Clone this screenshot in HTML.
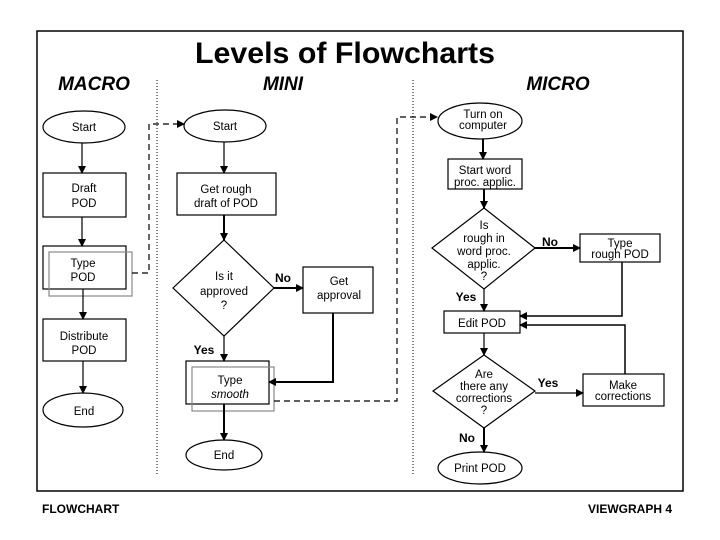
<!DOCTYPE html>
<html><head><meta charset="utf-8"><style>
html,body{margin:0;padding:0;background:#fff;width:720px;height:540px;overflow:hidden}
svg{display:block}
text{font-family:"Liberation Sans",sans-serif;fill:#000}
</style></head><body>
<svg width="720" height="540" viewBox="0 0 720 540" xmlns="http://www.w3.org/2000/svg">
<defs>
<marker id="a" markerWidth="8" markerHeight="8" refX="7" refY="4" orient="auto" markerUnits="userSpaceOnUse">
<path d="M0,0 L8,4 L0,8 Z" fill="#000"/></marker>
</defs>
<rect x="37" y="31" width="646" height="460" fill="none" stroke="#000" stroke-width="1.5"/>
<text x="345" y="63" font-size="30" font-weight="bold" text-anchor="middle" textLength="300" lengthAdjust="spacingAndGlyphs">Levels of Flowcharts</text>
<g font-size="19" font-weight="bold" font-style="italic" text-anchor="middle">
<text x="94" y="90">MACRO</text><text x="283" y="90">MINI</text><text x="558" y="90">MICRO</text>
</g>
<line x1="157" y1="80" x2="157" y2="476" stroke="#000" stroke-dasharray="1,2"/>
<line x1="413" y1="80" x2="413" y2="476" stroke="#000" stroke-dasharray="1,2"/>
<g fill="none" stroke="#000" stroke-width="1.2">
<ellipse cx="84" cy="127" rx="41" ry="16"/>
<rect x="43" y="173" width="83" height="44"/>
<rect x="43" y="246" width="83" height="43"/>
<rect x="49" y="252" width="83" height="44" stroke="#888"/>
<rect x="43" y="319" width="83" height="42"/>
<ellipse cx="83" cy="410" rx="40" ry="17"/>
<line x1="82" y1="143" x2="82" y2="173" marker-end="url(#a)"/>
<line x1="82" y1="217" x2="82" y2="246" marker-end="url(#a)"/>
<line x1="83" y1="289" x2="83" y2="319" marker-end="url(#a)"/>
<line x1="83" y1="361" x2="83" y2="393" marker-end="url(#a)"/>
<path d="M132,273 H149 V124 H184" stroke-dasharray="6,4" marker-end="url(#a)"/>
<ellipse cx="225" cy="126" rx="41" ry="16"/>
<rect x="177" y="173" width="99" height="42"/>
<path d="M224,240 L274,288 L224,336 L173,288 Z"/>
<rect x="303" y="267" width="70" height="46"/>
<rect x="186" y="361" width="83" height="43"/>
<rect x="192" y="367" width="82" height="44" stroke="#888"/>
<ellipse cx="224" cy="455" rx="38" ry="15"/>
<line x1="224" y1="142" x2="224" y2="173" marker-end="url(#a)"/>
<line x1="224" y1="215" x2="224" y2="240" stroke-width="2" marker-end="url(#a)"/>
<line x1="274" y1="288" x2="303" y2="288" stroke-width="2" marker-end="url(#a)"/>
<line x1="224" y1="336" x2="224" y2="361" marker-end="url(#a)"/>
<path d="M333,313 V382 H269" stroke-width="2" marker-end="url(#a)"/>
<line x1="224" y1="404" x2="224" y2="440" stroke-width="2" marker-end="url(#a)"/>
<path d="M274,401 H397 V117 H437" stroke-dasharray="6,4" marker-end="url(#a)"/>
<ellipse cx="480" cy="121" rx="42" ry="18"/>
<rect x="448" y="159" width="74" height="30"/>
<path d="M484,208 L535,248 L484,289 L432,248 Z"/>
<rect x="580" y="234" width="80" height="28"/>
<rect x="444" y="311" width="76" height="22"/>
<path d="M484,355 L535,391 L484,428 L433,391 Z"/>
<rect x="583" y="374" width="81" height="32"/>
<ellipse cx="480" cy="468" rx="42" ry="16"/>
<line x1="483" y1="139" x2="483" y2="159" stroke-width="2" marker-end="url(#a)"/>
<line x1="484" y1="189" x2="484" y2="208" stroke-width="2" marker-end="url(#a)"/>
<line x1="535" y1="248" x2="580" y2="248" stroke-width="2" marker-end="url(#a)"/>
<line x1="484" y1="289" x2="484" y2="311" marker-end="url(#a)"/>
<path d="M622,262 V316 H520" stroke-width="1.5" marker-end="url(#a)"/>
<path d="M625,374 V325 H520" stroke-width="1.5" marker-end="url(#a)"/>
<line x1="484" y1="333" x2="484" y2="355" marker-end="url(#a)"/>
<line x1="535" y1="393" x2="583" y2="393" marker-end="url(#a)"/>
<line x1="484" y1="428" x2="484" y2="452" stroke-width="2" marker-end="url(#a)"/>
</g>
<g font-size="11.5" text-anchor="middle">
<text x="84" y="131">Start</text>
<text x="84" y="192">Draft</text><text x="84" y="207">POD</text>
<text x="83" y="267">Type</text><text x="83" y="281">POD</text>
<text x="84" y="340">Distribute</text><text x="84" y="354">POD</text>
<text x="84" y="415">End</text>
<text x="225" y="130">Start</text>
<text x="226" y="193">Get rough</text><text x="226" y="207">draft of POD</text>
<text x="224" y="280">Is it</text><text x="224" y="295">approved</text><text x="224" y="309">?</text>
<text x="339" y="285">Get</text><text x="339" y="299">approval</text>
<text x="230" y="384">Type</text><text x="230" y="398" font-style="italic">smooth</text>
<text x="224" y="459">End</text>
<text x="483" y="118">Turn on</text><text x="483" y="129">computer</text>
<text x="485" y="174">Start word</text><text x="485" y="186">proc. applic.</text>
<text x="484" y="229">Is</text><text x="484" y="242">rough in</text><text x="484" y="255">word proc.</text><text x="484" y="268">applic.</text><text x="484" y="280">?</text>
<text x="620" y="247">Type</text><text x="620" y="258">rough POD</text>
<text x="482" y="327">Edit POD</text>
<text x="484" y="378">Are</text><text x="484" y="390">there any</text><text x="484" y="402">corrections</text><text x="484" y="414">?</text>
<text x="623" y="389">Make</text><text x="623" y="400">corrections</text>
<text x="480" y="472">Print POD</text>
</g>
<g font-size="12" font-weight="bold" text-anchor="middle">
<text x="283" y="282">No</text><text x="204" y="354">Yes</text>
<text x="550" y="246">No</text><text x="466" y="301">Yes</text>
<text x="548" y="387">Yes</text><text x="467" y="442">No</text>
</g>
<text x="42" y="513" font-size="12" font-weight="bold">FLOWCHART</text>
<text x="672" y="513" font-size="12" font-weight="bold" text-anchor="end">VIEWGRAPH 4</text>
</svg>
</body></html>
